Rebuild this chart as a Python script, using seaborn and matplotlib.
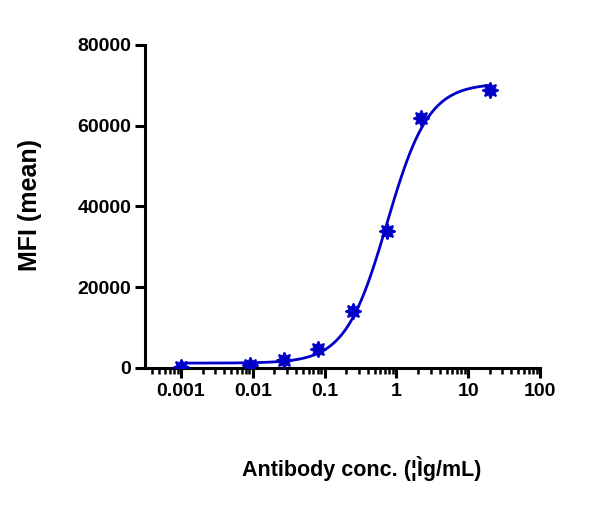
import numpy as np
import pandas as pd
import matplotlib
matplotlib.use("Agg")
import matplotlib.pyplot as plt
import matplotlib.ticker as mticker
import seaborn as sns

# Concentrações (ug/mL) e MFI médio
conc = [0.001, 0.00914, 0.0274, 0.0823, 0.247, 0.741, 2.22, 20.0]
mfi = [300, 700, 1900, 4800, 14000, 34000, 61900, 68900]

# Parâmetros do ajuste 4PL (estimados a partir da curva)
bottom = 1200
top = 70500
ec50 = 0.74
hill = 1.5

cor = "#0000C8"

sns.set_theme(style="ticks")
plt.rcParams["font.family"] = ["Liberation Sans", "DejaVu Sans"]
plt.rcParams["font.weight"] = "bold"
for k in ["text.color", "axes.labelcolor", "xtick.color", "ytick.color"]:
    plt.rcParams[k] = "black"

fig = plt.figure(figsize=(6.03, 5.13), dpi=100)
ax = fig.add_axes([0.2405, 0.2827, 0.655, 0.6296])

x_fit = np.logspace(np.log10(conc[0]), np.log10(conc[-1]), 300)
y_fit = bottom + (top - bottom) / (1 + (ec50 / x_fit) ** hill)
df_fit = pd.DataFrame({"x": x_fit, "y": y_fit})
df = pd.DataFrame({"x": conc, "y": mfi})

sns.lineplot(data=df_fit, x="x", y="y", color=cor, lw=2.0, ax=ax)
sns.scatterplot(data=df, x="x", y="y", color=cor, marker=(8, 1, 0), s=110,
                edgecolor=cor, linewidth=1.8, zorder=3, ax=ax)

ax.set_xscale("log")
ax.set_xlim(10 ** -3.5, 100)
ax.set_ylim(0, 80000)
ax.set_xticks([0.001, 0.01, 0.1, 1, 10, 100])
ax.set_xticklabels(["0.001", "0.01", "0.1", "1", "10", "100"])
ax.xaxis.set_minor_locator(mticker.LogLocator(base=10, subs=np.arange(2, 10), numticks=20))
ax.xaxis.set_minor_formatter(mticker.NullFormatter())
ax.set_yticks([0, 20000, 40000, 60000, 80000])

for s in ["top", "right"]:
    ax.spines[s].set_visible(False)
for s in ["left", "bottom"]:
    ax.spines[s].set_linewidth(2.2)
    ax.spines[s].set_color("black")

ax.tick_params(which="major", length=7, width=2.2, labelsize=14, color="black", pad=4)
ax.tick_params(axis="y", pad=3)
ax.tick_params(which="minor", length=4, width=1.8, color="black")
for lab in ax.get_xticklabels() + ax.get_yticklabels():
    lab.set_fontweight("bold")

ax.set_xlabel("Antibody conc. (¦Ìg/mL)", fontsize=15.5, fontweight="bold")
ax.xaxis.set_label_coords(0.548, -0.274)
ax.set_ylabel("MFI (mean)", fontsize=18, fontweight="bold")
ax.yaxis.set_label_coords(-0.26, 0.505)

plt.savefig("out.png", dpi=100)
